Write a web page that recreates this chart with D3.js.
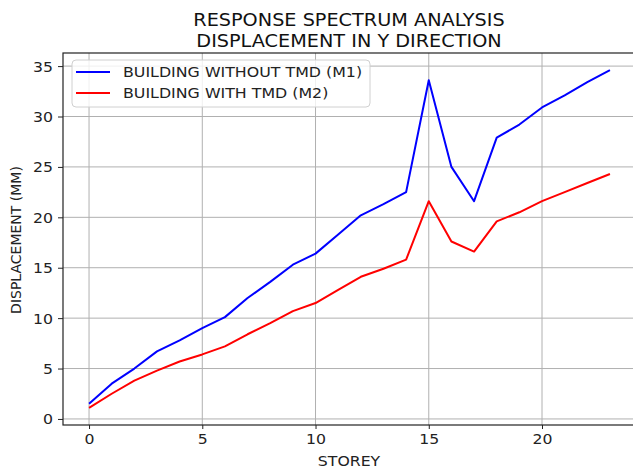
<!DOCTYPE html>
<html>
<head>
<meta charset="utf-8">
<script src="https://cdn.jsdelivr.net/npm/d3@7"></script>
<style>
html,body{margin:0;padding:0;background:#fff;overflow:hidden;}
svg{display:block;font-family:"DejaVu Sans",sans-serif;}
</style>
</head>
<body>
<svg id="chart" width="633" height="470"></svg>
<script>
const storeys = d3.range(0, 24);
const withoutTMD = [1.5, 3.5, 5.0, 6.7, 7.8, 9.0, 10.1, 12.0, 13.6, 15.3, 16.4, 18.3, 20.2, 21.3, 22.5, 33.6, 25.0, 21.6, 27.9, 29.2, 30.9, 32.1, 33.4, 34.6];
const withTMD    = [1.1, 2.5, 3.8, 4.8, 5.7, 6.4, 7.2, 8.4, 9.5, 10.7, 11.5, 12.8, 14.1, 14.9, 15.8, 21.6, 17.6, 16.6, 19.6, 20.5, 21.6, 22.5, 23.4, 24.3];
const xTicks = [0, 5, 10, 15, 20];
const yTicks = [0, 5, 10, 15, 20, 25, 30, 35];
const seriesNames = ["BUILDING WITHOUT TMD (M1)", "BUILDING WITH TMD (M2)"];
const seriesColors = ["#0000ff", "#ff0000"];
const titleLines = ["RESPONSE SPECTRUM ANALYSIS", "DISPLACEMENT IN Y DIRECTION"];

const svg = d3.select("#chart");
const L = 63, R = 636, T = 53, B = 425;
const x = d3.scaleLinear().domain([-1.15, 24.15]).range([L, R]);
const y = d3.scaleLinear().domain([-0.6, 36.3]).range([B, T]);

// horizontal stretch of text (reference looks widened ~1.1x)
function stretch(sel, factor) {
  sel.each(function () {
    const w = this.getComputedTextLength();
    d3.select(this).attr("textLength", w * factor).attr("lengthAdjust", "spacingAndGlyphs");
  });
}

const defs = svg.append("defs");
defs.append("clipPath").attr("id", "clip").append("rect")
  .attr("x", L).attr("y", T).attr("width", R - L).attr("height", B - T);

// grid
const grid = svg.append("g").attr("stroke", "#b0b0b0").attr("stroke-width", 1);
xTicks.forEach(t => grid.append("line").attr("x1", x(t)).attr("x2", x(t)).attr("y1", T).attr("y2", B));
yTicks.forEach(t => grid.append("line").attr("x1", L).attr("x2", R).attr("y1", y(t)).attr("y2", y(t)));

// lines
const line = d3.line().x((d, i) => x(storeys[i])).y(d => y(d));
const plot = svg.append("g").attr("clip-path", "url(#clip)");
[withoutTMD, withTMD].forEach((s, k) => {
  plot.append("path").datum(s).attr("d", line).attr("fill", "none")
    .attr("stroke", seriesColors[k]).attr("stroke-width", 2).attr("stroke-linejoin", "round");
});

// axes
const xAxis = d3.axisBottom(x).tickValues(xTicks).tickSize(4).tickPadding(5);
const yAxis = d3.axisLeft(y).tickValues(yTicks).tickSize(5).tickPadding(5);
const gx = svg.append("g").attr("transform", `translate(0,${B})`).call(xAxis);
const gy = svg.append("g").attr("transform", `translate(${L},0)`).call(yAxis);
[gx, gy].forEach(g => {
  g.select(".domain").remove();
  g.selectAll("text").attr("font-size", 14).attr("fill", "#222").attr("font-family", "DejaVu Sans");
  g.selectAll("line").attr("stroke", "#222");
});
gy.selectAll("text").attr("dy", "0.35em");
stretch(gx.selectAll("text"), 1.12);
stretch(gy.selectAll("text"), 1.12);

// frame
svg.append("rect").attr("x", L).attr("y", T).attr("width", R - L).attr("height", B - T)
  .attr("fill", "none").attr("stroke", "#222").attr("stroke-width", 1.2);

// axis labels
const xl = svg.append("text").attr("x", 349).attr("y", 466).attr("text-anchor", "middle")
  .attr("font-size", 14).attr("fill", "#222").text("STOREY");
stretch(xl, 1.12);
svg.append("text").attr("transform", "translate(21,240) rotate(-90)").attr("text-anchor", "middle")
  .attr("font-size", 14).attr("fill", "#222").text("DISPLACEMENT (MM)");

// title
titleLines.forEach((t, i) => {
  const tt = svg.append("text").attr("x", 349).attr("y", 26 + i * 21).attr("text-anchor", "middle")
    .attr("font-size", 18.5).attr("fill", "#111").text(t);
  stretch(tt, 1.04);
});

// legend
const lg = svg.append("g");
lg.append("rect").attr("x", 72).attr("y", 60).attr("width", 298).attr("height", 47).attr("rx", 4)
  .attr("fill", "#fff").attr("fill-opacity", 0.8).attr("stroke", "#d0d0d0");
seriesNames.forEach((n, i) => {
  const yy = 72 + i * 21;
  lg.append("line").attr("x1", 76).attr("x2", 110).attr("y1", yy).attr("y2", yy)
    .attr("stroke", seriesColors[i]).attr("stroke-width", 2);
  const t = lg.append("text").attr("x", 123).attr("y", yy).attr("dy", "0.36em")
    .attr("font-size", 14).attr("fill", "#222").text(n);
  stretch(t, 1.13);
});
</script>
</body>
</html>
